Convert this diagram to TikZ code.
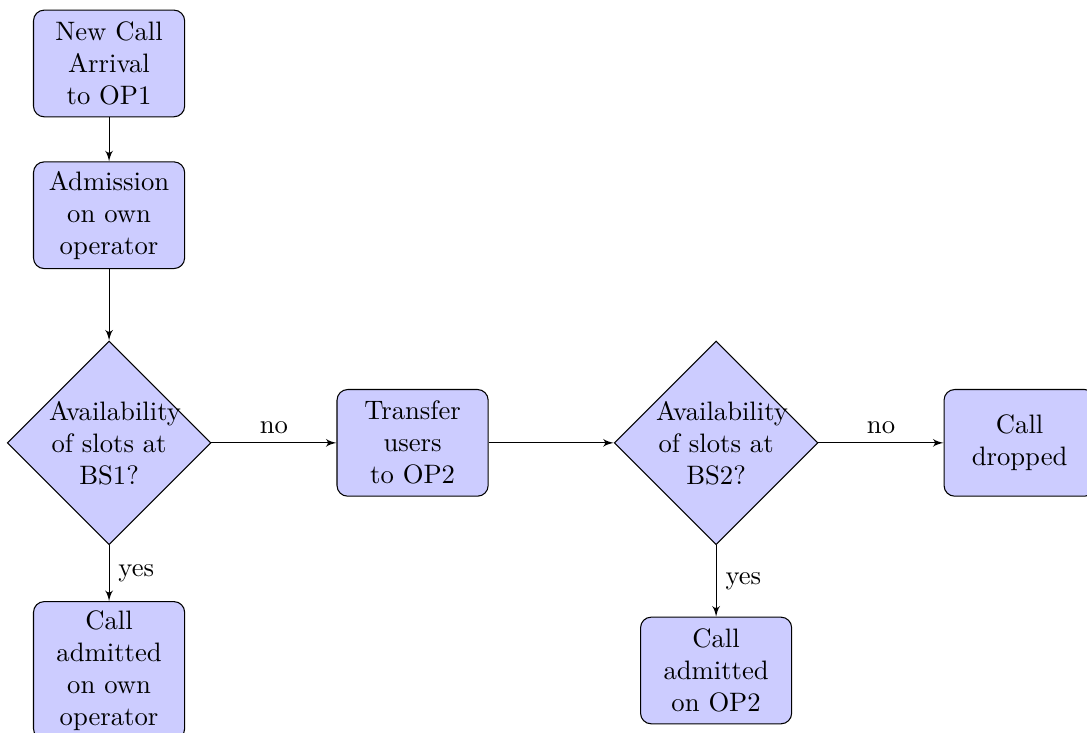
\documentclass[tikz,border=0pt]{standalone}
\usetikzlibrary{shapes.geometric,arrows,positioning}

\begin{document}
\begin{tikzpicture}[node distance=3cm,auto,>=latex']
\tikzstyle{decision}=[diamond,draw,fill=blue!20,text width=4.5em,text badly centered,inner sep=0pt]
\tikzstyle{block}=[rectangle,draw,fill=blue!20,text width=5em,text centered,rounded corners,minimum height=4em]
\tikzstyle{line}=[draw,->]

\useasboundingbox (-40.9pt,23.8pt) rectangle (366.7pt,-251pt);

\node[block] (arrival) {New Call Arrival to OP1};
\node[block,below of=arrival,node distance=2cm] (admission) {Admission on own operator};
\node[decision,below of=admission] (slotsone) {Availability of slots at BS1?};
\node[block,below of=slotsone] (admitown) {Call admitted on own operator};
\node[block,right of=slotsone,node distance=4cm] (transfer) {Transfer users to OP2};
\node[decision,right of=transfer,node distance=4cm] (slotstwo) {Availability of slots at BS2?};
\node[block,below of=slotstwo] (admittwo) {Call admitted on OP2};
\node[block,right of=slotstwo,node distance=4cm] (dropped) {Call dropped};

\path[line] (arrival) -- (admission);
\path[line] (admission) -- (slotsone);
\path[line] (slotsone) -- node {yes} (admitown);
\path[line] (slotsone) -- node {no} (transfer);
\path[line] (transfer) -- (slotstwo);
\path[line] (slotstwo) -- node {yes} (admittwo);
\path[line] (slotstwo) -- node {no} (dropped);
\end{tikzpicture}
\end{document}
